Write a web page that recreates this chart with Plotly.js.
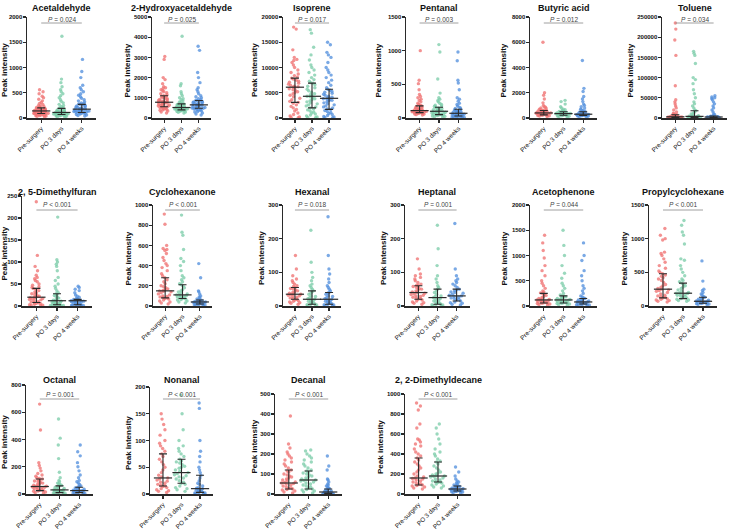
<!DOCTYPE html>
<html><head><meta charset="utf-8">
<script src="https://cdn.plot.ly/plotly-3.0.1.min.js"></script>
<style>html,body{margin:0;padding:0;background:#fff}#chart{width:729px;height:529px}</style>
</head><body><div id="chart"></div>
<script>
const groups = ['Pre-surgery','PO 3 days','PO 4 weeks'];
const titles = ['Acetaldehyde','2-Hydroxyacetaldehyde','Isoprene','Pentanal','Butyric acid','Toluene',
  '2, 5-Dimethylfuran','Cyclohexanone','Hexanal','Heptanal','Acetophenone','Propylcyclohexane',
  'Octanal','Nonanal','Decanal','2, 2-Dimethyldecane'];
const pLabels = ['= 0.024','= 0.025','= 0.017','= 0.003','= 0.012','= 0.034',
  '< 0.001','< 0.001','= 0.018','= 0.001','= 0.044','< 0.001',
  '= 0.001','< 0.001','< 0.001','< 0.001'];
const yMax  = [2000,5000,20000,1500,8000,250000,250,1000,300,300,2000,1500,800,200,500,1000];
const yStep = [500,1000,5000,500,2000,50000,50,200,100,100,500,500,200,50,100,200];

// medians, first and third quartiles (Pre-surgery, PO 3 days, PO 4 weeks)
const medians = [[140,110,175],[780,520,650],[6100,4300,3900],[110,100,70],[400,350,300],[3000,4000,2500],
  [20,12,12],[150,110,40],[35,20,20],[40,25,30],[120,120,80],[250,190,70],
  [55,30,25],[30,40,10],[55,70,10],[160,180,50]];
const q1s = [[90,70,110],[560,400,480],[3100,2000,1700],[80,50,30],[250,220,200],[1000,1500,1000],
  [8,3,3],[80,75,20],[20,5,5],[20,5,15],[60,60,40],[120,110,40],
  [25,10,10],[15,20,3],[25,25,3],[90,120,30]];
const q3s = [[200,190,270],[1100,700,870],[7900,6900,5700],[180,160,130],[600,500,500],[8000,18000,5000],
  [40,28,15],[280,210,60],[55,45,40],[60,50,50],[250,200,150],[480,340,130],
  [110,60,50],[75,65,35],[120,115,25],[360,320,80]];

const acetaldehyde_pre = [560,520,480,430,400,370,340,310,290,270,250,240,230,220,210,200,195,190,185,180,175,170,165,160,155,150,148,145,142,140,138,135,130,125,120,118,115,112,110,105,100,98,95,92,90,88,85,80,75,70,65,60,55,50,45,40,35,30];
const acetaldehyde_po3 = [1620,770,700,620,560,520,480,440,400,360,330,300,270,250,230,210,200,190,180,170,160,150,140,135,130,125,120,115,112,110,108,105,100,95,90,88,85,80,78,75,72,70,68,65,60,55,50,45,40,35,30,25];
const acetaldehyde_po4 = [1160,920,800,650,600,560,520,480,450,420,390,360,340,320,300,290,280,270,260,250,240,230,220,210,200,195,190,185,180,175,170,165,160,155,150,145,140,135,130,125,120,115,110,105,100,95,90,80,70,60,50,40];

const hydroxyacetaldehyde_pre = [3050,2900,2000,1900,1700,1550,1500,1450,1400,1350,1300,1250,1200,1150,1100,1080,1050,1000,980,950,920,900,880,850,830,810,800,790,780,770,760,740,720,700,680,660,640,620,600,580,560,540,520,500,480,450,420,400,380,350,300,250];
const hydroxyacetaldehyde_po3 = [4050,1700,1600,1300,1200,1100,1000,950,900,850,800,760,720,700,680,660,640,620,600,580,560,550,540,530,520,510,500,490,480,470,460,450,440,430,420,410,400,390,380,370,360,340,320,300,280,250];
const hydroxyacetaldehyde_po4 = [3550,3350,2250,2000,1750,1500,1400,1300,1200,1100,1050,1000,950,900,880,860,840,820,800,780,760,740,720,700,680,660,650,640,630,620,600,580,560,540,520,500,490,480,470,460,440,420,400,380,350,320,300,250,200,150];

const isoprene_pre = [18000,17600,13500,12000,11600,11400,11000,10500,10000,9500,9000,8700,8400,8100,7900,7700,7500,7300,7100,6900,6700,6500,6300,6200,6100,6000,5800,5600,5400,5200,5000,4800,4500,4200,3900,3600,3300,3100,2900,2600,2300,2000,1700,1400,1000,700,400,200,100,50];
const isoprene_po3 = [17500,16800,14000,12500,11500,10500,10000,9500,9000,8500,8000,7600,7300,7000,6900,6600,6300,6000,5700,5400,5100,4800,4600,4400,4300,4200,4000,3800,3600,3400,3200,3000,2800,2600,2400,2200,2000,1800,1600,1400,1200,1000,800,600,400,200,100,50];
const isoprene_po4 = [15000,14500,13000,12500,12000,11000,10000,9500,9000,8500,8000,7500,7000,6500,6000,5700,5500,5300,5100,4900,4700,4500,4300,4100,4000,3900,3800,3700,3600,3500,3400,3200,3000,2800,2600,2400,2200,2000,1800,1700,1500,1300,1100,900,700,500,300,200,100,50];

const pentanal_pre = [1000,560,510,420,350,320,300,280,260,240,220,200,190,180,170,160,150,145,140,135,130,125,120,115,112,110,108,105,102,100,98,95,92,90,88,85,82,80,78,75,70,65,60,55,50,45];
const pentanal_po3 = [1090,980,580,370,300,280,260,240,220,200,190,180,170,160,150,145,140,130,125,120,115,110,105,100,95,90,85,80,75,70,65,60,55,50,48,45,40,35,30,25,20,15];
const pentanal_po4 = [980,850,560,520,420,300,280,250,220,200,180,160,150,140,130,120,110,105,100,95,90,85,80,75,72,70,68,65,60,55,50,45,40,35,32,30,28,25,22,20,15,12,10,8,5];

const butyric_pre = [6000,2000,1800,1500,1200,1000,900,850,800,750,700,650,620,600,580,560,540,520,500,480,460,440,420,410,400,390,380,360,340,320,300,280,260,250,240,220,200,180,150,120];
const butyric_po3 = [1400,1300,1100,900,800,700,650,600,560,520,500,480,460,440,420,400,380,360,350,340,330,320,300,280,260,240,220,200,180,160,140,120,100];
const butyric_po4 = [4550,2350,2100,1700,1500,1300,1100,1000,900,800,700,650,600,550,500,480,460,440,420,400,380,350,320,300,290,280,270,260,250,240,230,220,210,200,190,180,160,140,120,100];

const toluene_pre = [235000,220000,193000,155000,80000,45000,40000,35000,30000,25000,20000,15000,12000,10000,9000,8000,7000,6000,5500,5000,4500,4000,3500,3200,3000,2800,2500,2200,2000,1800,1600,1400,1200,1000,900,800,700,600,500,400,300,200];
const toluene_po3 = [165000,160000,155000,135000,100000,95000,85000,70000,60000,50000,40000,35000,30000,25000,20000,18000,15000,12000,10000,8000,6000,5000,4500,4000,3500,3000,2500,2000,1800,1500,1200,1000,800,600,400,300];
const toluene_po4 = [55000,52000,50000,48000,45000,40000,35000,30000,25000,20000,15000,10000,8000,6000,5000,4500,4000,3500,3000,2700,2500,2300,2000,1800,1500,1200,1000,900,800,600,400,300,200];

const dimethylfuran_pre = [237,115,90,80,70,65,62,58,55,50,47,44,42,40,38,35,32,30,28,26,24,22,21,20,19,18,17,16,15,14,12,10,9,8,7,6,5,4,3,2,1,0.5];
const dimethylfuran_po3 = [202,105,100,95,90,80,65,58,50,45,40,35,30,28,26,24,22,20,18,16,14,13,12,11,10,9,8,7,6,5,4,3,3,2,2,1,1,0.5,0.5];
const dimethylfuran_po4 = [45,42,38,35,30,25,22,20,18,16,15,14,14,13,13,12,12,12,11,11,10,9,8,7,6,5,4,3,3,2,2,1,1,0.5];

const cyclohexanone_pre = [910,810,600,570,560,550,520,480,450,420,400,380,350,320,300,280,260,240,220,200,190,180,170,160,155,150,145,140,130,120,110,100,95,90,85,80,75,70,60,50,40,30,20];
const cyclohexanone_po3 = [900,730,700,560,470,440,400,350,300,280,260,240,220,210,200,180,160,150,140,130,120,115,110,105,100,95,90,85,80,75,70,65,60,50,40,30];
const cyclohexanone_po4 = [420,280,150,140,120,100,90,80,70,65,60,55,50,48,45,42,40,38,36,34,32,30,28,25,22,20,18,15,12,10,8,5];

const hexanal_pre = [150,110,90,80,75,70,65,60,58,55,52,50,48,45,42,40,38,36,35,34,32,30,28,26,24,22,20,18,16,14,12,10,8,5];
const hexanal_po3 = [225,130,100,85,75,65,60,55,50,45,42,38,35,30,28,25,22,20,18,16,14,12,10,8,6,5,4,3,2,1];
const hexanal_po4 = [265,150,110,95,80,70,60,55,50,45,40,38,35,30,28,25,22,20,18,16,14,12,10,8,6,5,4,3,2,1];

const heptanal_pre = [140,110,95,90,85,80,75,70,65,62,60,58,55,52,50,48,45,42,40,38,36,34,32,30,28,26,24,22,20,18,15,12,10,8,5];
const heptanal_po3 = [240,170,120,90,80,70,60,55,50,45,40,35,30,28,25,22,20,18,15,12,10,8,6,5,4,3,2,1];
const heptanal_po4 = [245,110,90,80,75,70,65,60,55,50,48,45,42,40,38,35,32,30,28,26,24,22,20,18,15,12,10,8,5,3];

const acetophenone_pre = [1400,1250,1100,950,800,700,600,500,450,400,350,300,280,260,250,230,210,190,170,150,140,130,125,120,115,110,100,90,80,70,65,60,55,50,40,30,20];
const acetophenone_po3 = [1500,1200,1000,800,650,550,450,400,350,300,250,220,200,190,180,170,160,150,140,130,125,120,115,110,100,90,80,70,65,60,55,50,40,30,20];
const acetophenone_po4 = [1250,1000,900,700,600,500,400,350,300,250,200,180,160,150,140,130,120,110,100,90,85,80,75,70,60,50,45,40,35,30,25,20,15,10];

const propylcyclohexane_pre = [1150,1050,1000,980,800,780,750,700,650,600,560,520,500,480,460,440,420,400,380,350,320,300,280,260,250,240,230,220,200,180,160,150,140,130,120,110,100,90,80,70,60];
const propylcyclohexane_po3 = [1270,1200,1100,1050,920,700,680,600,550,500,450,400,380,360,340,320,300,280,260,240,220,200,195,190,185,180,170,160,150,140,130,120,110,100,90,80,70];
const propylcyclohexane_po4 = [670,370,250,230,200,180,160,140,130,120,110,100,90,85,80,75,70,68,65,60,55,50,45,40,38,35,30,25,20];

const octanal_pre = [660,470,230,210,190,170,150,140,130,120,115,110,105,100,95,90,85,80,75,70,65,60,58,55,52,50,48,45,40,35,30,28,25,22,20,15,10,5];
const octanal_po3 = [550,410,360,260,160,120,100,90,80,75,70,65,60,55,50,45,40,35,32,30,28,25,22,20,18,15,12,10,8,6,5,3];
const octanal_po4 = [360,310,280,230,200,170,140,120,100,90,80,70,60,55,50,45,40,35,30,28,26,25,24,22,20,18,15,12,10,8,6,5,3];

const nonanal_pre = [150,140,130,120,110,100,95,90,85,80,75,70,65,60,55,50,45,40,35,32,30,28,26,24,22,20,18,16,15,14,12,10,8,6,5,3];
const nonanal_po3 = [185,150,120,100,90,85,80,75,70,65,62,60,58,55,52,50,48,45,42,40,38,36,34,32,30,28,25,22,20,18,15,12,10,8,5];
const nonanal_po4 = [210,170,160,100,80,70,60,50,45,40,35,30,25,20,18,15,12,11,10,9,8,7,6,5,4,3,3,2,2,1,1];

const decanal_pre = [390,250,230,210,200,190,180,170,160,150,140,130,120,115,110,100,95,90,85,80,75,70,65,60,58,55,52,50,45,40,35,30,28,25,22,20,15,10,5];
const decanal_po3 = [220,215,200,190,180,170,160,150,140,130,120,115,110,105,100,95,90,85,80,75,72,70,68,65,60,55,50,45,40,35,30,25,22,20,15,10,5];
const decanal_po4 = [190,140,120,75,70,60,50,45,40,35,30,28,25,22,20,18,15,12,11,10,9,8,7,6,5,4,3,3,2,2,1,1];

const dimethyldecane_pre = [910,880,840,700,660,550,540,520,500,480,450,420,400,380,360,340,320,300,280,260,240,220,200,180,170,160,155,150,140,130,120,110,100,95,90,85,80,70,60,50];
const dimethyldecane_po3 = [700,660,600,550,500,450,420,400,380,350,330,320,300,280,260,240,220,210,200,190,185,180,175,170,160,150,140,130,125,120,115,110,100,90,80,70,60];
const dimethyldecane_po4 = [270,220,180,150,130,120,110,100,90,85,80,75,70,65,60,55,52,50,48,45,42,40,38,35,32,30,28,25,22,20,15,10];

const panelData = [
  [acetaldehyde_pre, acetaldehyde_po3, acetaldehyde_po4],
  [hydroxyacetaldehyde_pre, hydroxyacetaldehyde_po3, hydroxyacetaldehyde_po4],
  [isoprene_pre, isoprene_po3, isoprene_po4],
  [pentanal_pre, pentanal_po3, pentanal_po4],
  [butyric_pre, butyric_po3, butyric_po4],
  [toluene_pre, toluene_po3, toluene_po4],
  [dimethylfuran_pre, dimethylfuran_po3, dimethylfuran_po4],
  [cyclohexanone_pre, cyclohexanone_po3, cyclohexanone_po4],
  [hexanal_pre, hexanal_po3, hexanal_po4],
  [heptanal_pre, heptanal_po3, heptanal_po4],
  [acetophenone_pre, acetophenone_po3, acetophenone_po4],
  [propylcyclohexane_pre, propylcyclohexane_po3, propylcyclohexane_po4],
  [octanal_pre, octanal_po3, octanal_po4],
  [nonanal_pre, nonanal_po3, nonanal_po4],
  [decanal_pre, decanal_po3, decanal_po4],
  [dimethyldecane_pre, dimethyldecane_po3, dimethyldecane_po4]
];

// ---- layout (pixel boxes: left, right, top, bottom of each plot area) ----
const W = 729, H = 529;
const boxes = [
  [27,96,17,118],[152,211,17,118],[283,341,17,118],[406,472,17,118],[530,597,17,118],[662,727,17,118],
  [22,92,196,306],[153,212,205,306],[283,341,205,306],[405,470,205,306],[530,597,205,306],[649,717,205,306],
  [26,93,385,494],[150,213,387,494],[275,342,394,494],[405,471,394,494]
];
const yTitleX = [10,132,260,378,503,632, 7,128,262,386,504,630, 6,130,254,380];
const rowTitleY = [8,192,380];
const rowPTextY = [19,205,394];
const rowPLineY = [23,210,399];
const dotColors = ['rgba(240,115,115,0.78)','rgba(125,205,170,0.78)','rgba(85,145,222,0.78)'];
const FONT = 'Liberation Sans, Arial, Helvetica, sans-serif';
const ink = '#2a2a2a';
const TICKFS = 6, TICKLEN = 3;

const traces = [];
const layout = {
  width: W, height: H, margin:{l:0,r:0,t:0,b:0},
  paper_bgcolor:'#fff', plot_bgcolor:'#fff', showlegend:false,
  font:{family:FONT, color:'#222'},
  annotations:[], shapes:[]
};

for (let k = 0; k < 16; k++) {
  const n = k + 1;
  const xa = 'x' + (n === 1 ? '' : n), ya = 'y' + (n === 1 ? '' : n);
  const [L, R, T, B] = boxes[k];
  const row = Math.floor(k / 6);
  for (let g = 0; g < 3; g++) {
    traces.push({
      type:'box', y: panelData[k][g], x0: g, xaxis: xa, yaxis: ya,
      boxpoints:'all', jitter: 1, pointpos: 0, width: 0.8,
      marker:{size:3.4, color: dotColors[g]},
      line:{width:0, color:'rgba(0,0,0,0)'}, fillcolor:'rgba(0,0,0,0)',
      hoverinfo:'skip', showlegend:false
    });
  }
  const med = medians[k], lo = q1s[k], hi = q3s[k];
  traces.push({
    type:'scatter', mode:'markers', x:[0,1,2], y: med, xaxis: xa, yaxis: ya,
    marker:{symbol:'line-ew', size:13, color: ink, line:{width:1.2, color: ink}},
    error_y:{type:'data', symmetric:false, array: hi.map((v,i)=>v-med[i]), arrayminus: lo.map((v,i)=>med[i]-v),
      width:4, thickness:1.1, color: ink},
    cliponaxis:false, hoverinfo:'skip', showlegend:false
  });
  const axName = n === 1 ? '' : n;
  layout['xaxis' + axName] = {
    domain:[L / W, R / W], range:[-0.7, 2.7], anchor: ya,
    showline:true, linecolor: ink, linewidth:1.5, mirror:false,
    tickmode:'array', tickvals:[0,1,2], ticktext: groups,
    ticks:'outside', ticklen:TICKLEN, tickwidth:1.2, tickcolor: ink,
    tickangle:-45, tickfont:{size:6.3, color:'#111'},
    showgrid:false, zeroline:false, fixedrange:true
  };
  layout['yaxis' + axName] = {
    domain:[1 - B / H, 1 - T / H], range:[0, yMax[k]], anchor: xa,
    showline:true, linecolor: ink, linewidth:1.5,
    tick0:0, dtick: yStep[k], tickformat:'d', ticks:'outside', ticklen:TICKLEN, tickwidth:1.2, tickcolor: ink,
    ticklabelstandoff:-1,
    tickfont:{size:TICKFS, color:'#111', weight:'bold'},
    showgrid:false, zeroline:false, fixedrange:true
  };
  // keep the axis title clear of the widest tick label
  const labelW = String(yMax[k]).length * 0.58 * TICKFS;
  const titleX = Math.max(4.5, Math.min(yTitleX[k], L - TICKLEN - 3 - labelW - 5));
  layout.annotations.push({
    xref:'paper', yref:'paper', x: titleX / W, y: 1 - ((T + B) / 2 + 3) / H,
    text:'Peak intensity', textangle:-90, showarrow:false, xanchor:'center', yanchor:'middle',
    font:{size:8, weight:'bold', color:'#111'}
  });
  layout.annotations.push({
    xref:'paper', yref:'paper', x: (L + R) / 2 / W, y: 1 - rowTitleY[row] / H,
    text: titles[k], showarrow:false, xanchor:'center', yanchor:'middle',
    font:{size:9, weight:'bold', color:'#111'}
  });
  layout.annotations.push({
    xref: xa, yref:'paper', x: 1, y: 1 - rowPTextY[row] / H,
    text: '<i>P</i> ' + pLabels[k], showarrow:false, xanchor:'center', yanchor:'middle',
    font:{size:6.5, color:'#444'}
  });
  layout.shapes.push({
    type:'line', xref: xa, yref:'paper', x0:0, x1:2,
    y0: 1 - rowPLineY[row] / H, y1: 1 - rowPLineY[row] / H,
    line:{color:'#888', width:0.8}
  });
}

Plotly.newPlot('chart', traces, layout, {staticPlot:true, displayModeBar:false});
</script>
</body></html>
